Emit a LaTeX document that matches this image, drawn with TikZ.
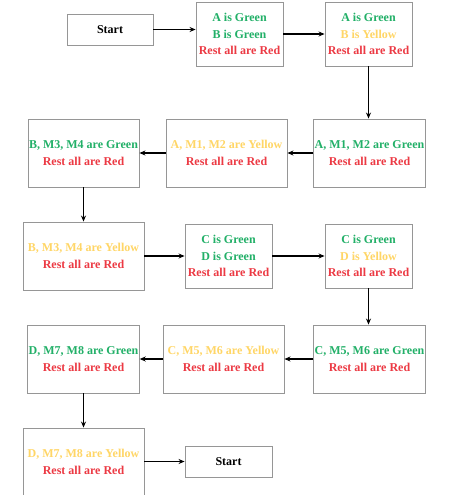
\documentclass[tikz,border=0pt]{standalone}
\usepackage{fontspec}
\setmainfont{Liberation Serif}
\usetikzlibrary{arrows.meta}
\definecolor{lgreen}{RGB}{34,176,104}
\definecolor{lyellow}{RGB}{255,214,102}
\definecolor{lred}{RGB}{236,58,68}
\definecolor{lgray}{RGB}{150,150,150}
\tikzset{
  box/.style={draw=lgray,line width=0.9pt,fill=white,align=center,inner sep=1pt,
    font=\bfseries\fontsize{12}{16.3}\selectfont},
  flow/.style={line width=1.3pt,-{Stealth[length=6pt,width=5pt]}}
}
\newcommand{\gr}[1]{\textcolor{lgreen}{#1}}
\newcommand{\ye}[1]{\textcolor{lyellow}{#1}}
\newcommand{\rd}[1]{\textcolor{lred}{#1}}

\begin{document}
\begin{tikzpicture}[x=1pt,y=-1pt]
\useasboundingbox (0,0) rectangle (452,495);
% first row
\node[box,minimum width=86,minimum height=31] (start) at (110,29.5) {Start};
\node[box,minimum width=87,minimum height=64] (ab) at (239.5,34) {\gr{A is Green}\\\gr{B is Green}\\\rd{Rest all are Red}};
\node[box,minimum width=87,minimum height=64] (aby) at (368.5,34) {\gr{A is Green}\\\ye{B is Yellow}\\\rd{Rest all are Red}};
% second row
\node[box,minimum width=111,minimum height=68] (amg) at (369.5,153) {\gr{A, M1, M2 are Green}\\\rd{Rest all are Red}};
\node[box,minimum width=121,minimum height=68] (amy) at (226.5,153) {\ye{A, M1, M2 are Yellow}\\\rd{Rest all are Red}};
\node[box,minimum width=111,minimum height=68] (bmg) at (83.5,153) {\gr{B, M3, M4 are Green}\\\rd{Rest all are Red}};
% third row
\node[box,minimum width=121,minimum height=68] (bmy) at (83.5,256) {\ye{B, M3, M4 are Yellow}\\\rd{Rest all are Red}};
\node[box,minimum width=87,minimum height=64] (cd) at (228.5,256) {\gr{C is Green}\\\gr{D is Green}\\\rd{Rest all are Red}};
\node[box,minimum width=87,minimum height=64] (cdy) at (368.5,256) {\gr{C is Green}\\\ye{D is Yellow}\\\rd{Rest all are Red}};
% fourth row
\node[box,minimum width=111,minimum height=68] (cmg) at (369.5,359) {\gr{C, M5, M6 are Green}\\\rd{Rest all are Red}};
\node[box,minimum width=121,minimum height=68] (cmy) at (223.5,359) {\ye{C, M5, M6 are Yellow}\\\rd{Rest all are Red}};
\node[box,minimum width=111,minimum height=68] (dmg) at (83.5,359) {\gr{D, M7, M8 are Green}\\\rd{Rest all are Red}};
% last row
\node[box,minimum width=121,minimum height=68] (dmy) at (83.5,462) {\ye{D, M7, M8 are Yellow}\\\rd{Rest all are Red}};
\node[box,minimum width=87,minimum height=31] (end) at (228.5,461.5) {Start};
% arrows
\draw[flow] (start.east) -- (start.east -| ab.west);
\draw[flow] (ab) -- (aby);
\draw[flow] (aby.south) -- (aby.south |- amg.north);
\draw[flow] (amg) -- (amy);
\draw[flow] (amy) -- (bmg);
\draw[flow] (bmg) -- (bmy);
\draw[flow] (bmy) -- (cd);
\draw[flow] (cd) -- (cdy);
\draw[flow] (cdy.south) -- (cdy.south |- cmg.north);
\draw[flow] (cmg) -- (cmy);
\draw[flow] (cmy) -- (dmg);
\draw[flow] (dmg) -- (dmy);
\draw[flow] (dmy.east |- end.west) -- (end.west);
\end{tikzpicture}
\end{document}
